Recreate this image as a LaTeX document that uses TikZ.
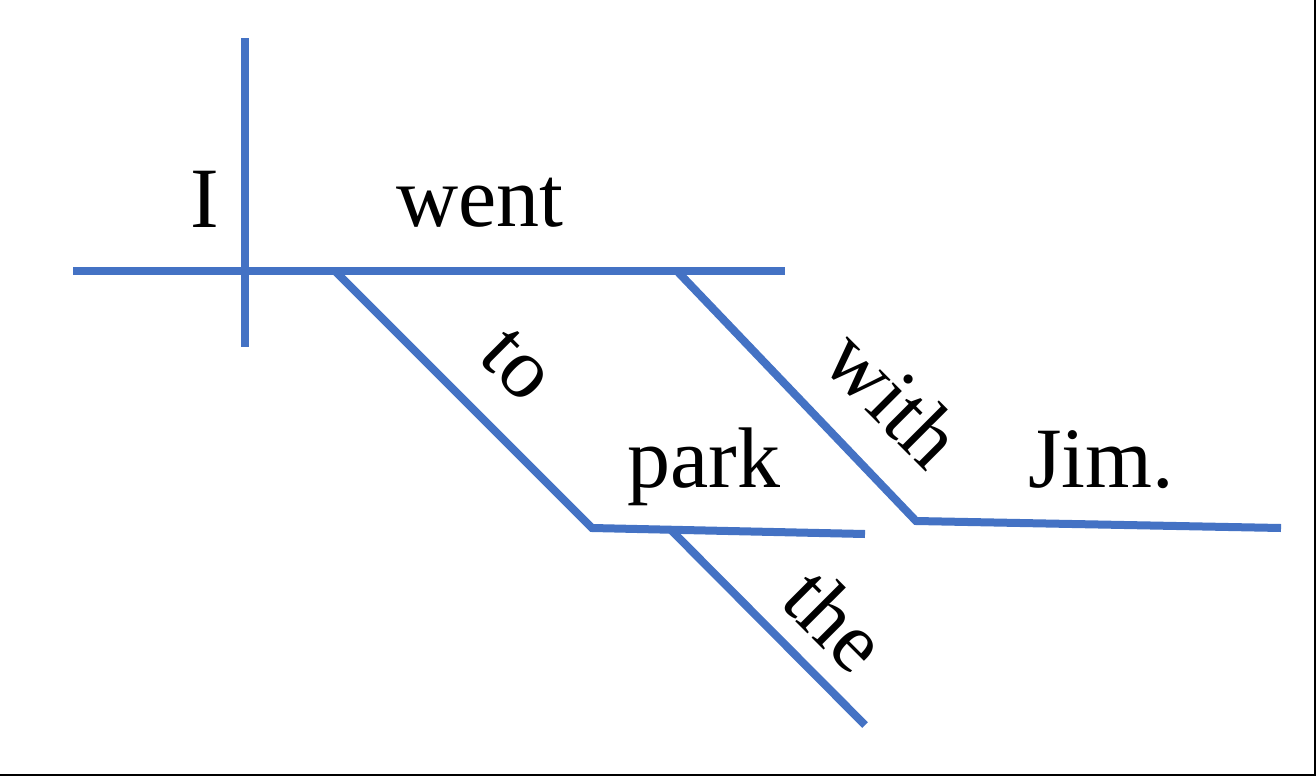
\documentclass[tikz,border=0pt]{standalone}
\usepackage{fontspec}
\setmainfont{Liberation Serif}
\definecolor{lineblue}{HTML}{4472C4}
\begin{document}
\begin{tikzpicture}[x=0.5pt,y=-0.5pt,
  dline/.style={draw=lineblue,line width=4pt},
  word/.style={font=\fontsize{43}{48}\selectfont,inner sep=0pt,anchor=base},
  slant/.style={font=\fontsize{43}{48}\selectfont,inner sep=0pt,rotate=-45}]
\useasboundingbox (0,0) rectangle (1316,776);
\fill[white] (0,0) rectangle (1316,776);
% frame edges (right and bottom)
\draw[black,line width=1.2pt] (0,775) -- (1315,775) -- (1315,0);
% coordinates
\coordinate (vt) at (245,38);
\coordinate (vb) at (245,347);
\coordinate (hl) at (73,271);
\coordinate (hr) at (785,271);
\coordinate (toA) at (335,271);
\coordinate (toB) at (592,528);
\coordinate (parkR) at (865,534);
\coordinate (theA) at (670,529);
\coordinate (theB) at (865,725);
\coordinate (withA) at (677,271);
\coordinate (withB) at (916,521);
\coordinate (jimR) at (1281,528);
% lines
\draw[dline] (vt) -- (vb);
\draw[dline] (hl) -- (hr);
\draw[dline,line join=miter] (toA) -- (toB) -- (parkR);
\draw[dline] (theA) -- (theB);
\draw[dline,line join=miter] (withA) -- (withB) -- (jimR);
% words
\node[word] (I) at (205,227) {I};
\node[word] (went) at (480,226) {went};
\node[word] (park) at (704,487) {park};
\node[word] (jim) at (1101,487) {Jim.};
\node[slant] (to) at (517,365) {to};
\node[slant] (with) at (894,398) {with};
\node[slant] (the) at (836,620) {the};
\end{tikzpicture}
\end{document}
